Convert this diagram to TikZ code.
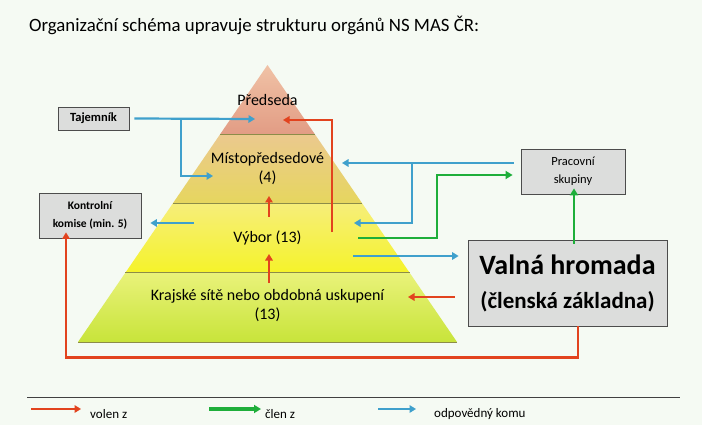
\documentclass[tikz,border=0pt]{standalone}
\usepackage{fontspec}
\setmainfont{Carlito}
\usetikzlibrary{arrows.meta,calc}

\definecolor{volen}{HTML}{E2431E}
\definecolor{clen}{HTML}{1EAE3A}
\definecolor{odpov}{HTML}{3FA0CC}
\definecolor{papir}{HTML}{F5FAF3}
\definecolor{sedka}{HTML}{DCDDDC}
\definecolor{hrana}{HTML}{8C8C48}
\definecolor{predA}{HTML}{F0C2A6}\definecolor{predB}{HTML}{E29C84}
\definecolor{mistoA}{HTML}{EBC98E}\definecolor{mistoB}{HTML}{E6D65E}
\definecolor{vyborA}{HTML}{F6EE7A}\definecolor{vyborB}{HTML}{F5F32A}
\definecolor{krajA}{HTML}{E9F27A}\definecolor{krajB}{HTML}{C8E43A}

\tikzset{
  volenz/.style={draw=volen,line width=2.4pt,-{Triangle[length=6.5pt,width=7.5pt]}},
  clenz/.style={draw=clen,line width=2.7pt,-{Triangle[length=7pt,width=8pt]}},
  komu/.style={draw=odpov,line width=2.2pt,-{Triangle[length=6.5pt,width=7.5pt]}},
  krabice/.style={draw=black!70,fill=sedka,line width=0.8pt,align=center,inner sep=2pt},
  patro/.style={align=center,font=\fontsize{16}{19}\selectfont},
  popis/.style={anchor=west,inner sep=0pt,font=\fontsize{13}{15}\selectfont},
}

\begin{document}
\begin{tikzpicture}[x=1pt,y=-1pt]
% background
\fill[papir] (0,0) rectangle (702,425);
\useasboundingbox (0,0) rectangle (702,425);
% title
\path (29,25) node[anchor=west,inner sep=0pt,font=\fontsize{18.8}{22}\selectfont]{Organizační schéma upravuje strukturu orgánů NS MAS ČR:};
% pyramid
\coordinate (apex) at (267.5,65);
\coordinate (bl) at (78,342);
\coordinate (br) at (457,342);
\coordinate (l1) at ($(apex)!0.25!(bl)$);\coordinate (r1) at ($(apex)!0.25!(br)$);
\coordinate (l2) at ($(apex)!0.5!(bl)$);\coordinate (r2) at ($(apex)!0.5!(br)$);
\coordinate (l3) at ($(apex)!0.75!(bl)$);\coordinate (r3) at ($(apex)!0.75!(br)$);
\shade[top color=predA,bottom color=predB] (apex) -- (r1) -- (l1) -- cycle;
\shade[top color=mistoA,bottom color=mistoB] (l1) -- (r1) -- (r2) -- (l2) -- cycle;
\shade[top color=vyborA,bottom color=vyborB] (l2) -- (r2) -- (r3) -- (l3) -- cycle;
\shade[top color=krajA,bottom color=krajB] (l3) -- (r3) -- (br) -- (bl) -- cycle;
\draw[hrana,line width=0.6pt] (l1) -- (r1) (l2) -- (r2) (l3) -- (r3) (bl) -- (br);
% levels
\node[patro] (pred) at (267.5,100) {Předseda};
\node[patro] (misto) at (267.5,169) {Místopředsedové\\(4)};
\node[patro] (vybor) at (267.5,238) {Výbor (13)};
\node[patro] (kraj) at (267.5,306) {Krajské sítě nebo obdobná uskupení\\(13)};
% boxes
\node[krabice,font=\bfseries\fontsize{12.5}{15}\selectfont,minimum width=71pt,minimum height=23pt] (tajem) at (93.5,118.5) {Tajemník};
\node[krabice,font=\bfseries\fontsize{11.5}{17.5}\selectfont,minimum width=102pt,minimum height=45pt] (kontr) at (90,215.5) {Kontrolní\\komise (min. 5)};
\node[krabice,font=\fontsize{12.5}{18}\selectfont,minimum width=104pt,minimum height=45pt] (prac) at (573,171.5) {Pracovní\\skupiny};
\node[krabice,font=\bfseries\fontsize{23}{34}\selectfont,minimum width=199pt,minimum height=86pt] (valna) at (567.5,283) {{\fontsize{28}{30}\selectfont Valná hromada}\\(členská základna)};
% connector ends
\coordinate (predL) at (255,119);\coordinate (predR) at (283,120);
\coordinate (mistoL) at (213,176);\coordinate (mistoR) at (342,163);
\coordinate (mistoD) at (269,196);\coordinate (vyborT) at (269,217);
\coordinate (vyborL) at (194,223);\coordinate (vyborR) at (354,223);
\coordinate (vyborD) at (269,254);\coordinate (krajT) at (269,283);
\coordinate (vyborV) at (332,232);\coordinate (vyborG) at (358,238);
\coordinate (vyborH) at (353,256);\coordinate (krajR) at (408,297);
% blue
\draw[komu] ([xshift=5pt]tajem.east) -- (predL);
\draw[komu] (181,119) |- (mistoL);
\draw[komu] (vyborL) -- ([xshift=9pt]kontr.east |- vyborL);
\draw[komu] (vyborH) -- ([xshift=-9pt]valna.west |- vyborH);
\draw[komu] ([xshift=-7pt]prac.west |- mistoR) -- (mistoR);
\draw[komu] (412,163) |- (vyborR);
% red
\draw[volenz] (vyborV) |- (predR);
\draw[volenz] (vyborT) -- (mistoD);
\draw[volenz] (krajT) -- (vyborD);
\draw[volenz] ([xshift=-13pt]valna.west |- krajR) -- (krajR);
\draw[volenz] ([xshift=10.5pt]valna.south) -- ++(0,31) -| ([yshift=6pt]kontr.south -| 66,0);
% green
\draw[clenz] (vyborG) -| (437,175) -- ([xshift=-8pt]prac.west |- 0,175);
\draw[clenz] ([xshift=6.5pt,yshift=-4pt]valna.north) -- ([xshift=1pt,yshift=6pt]prac.south);
% legend
\draw[black!75,line width=0.8pt] (27,397) -- (680,397);
\draw[volenz,line width=1.8pt] (31,409) -- (81,409);
\draw[clenz,line width=3.5pt] (209,409) -- (261,409);
\draw[komu,line width=1.8pt] (378,409) -- (416,409);
\path (90,414) node[popis]{volen z};
\path (265,414) node[popis]{člen z};
\path (434,414) node[popis]{odpovědný komu};
\end{tikzpicture}
\end{document}
